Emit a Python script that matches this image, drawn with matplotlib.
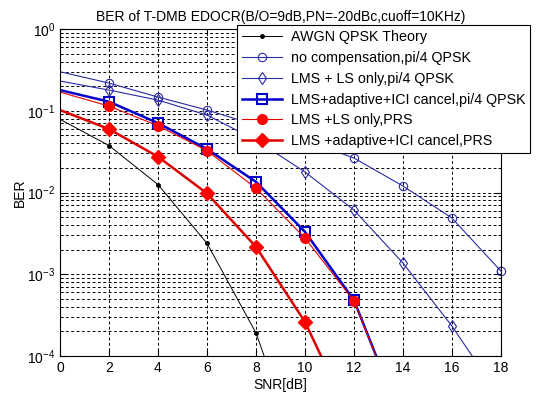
import matplotlib
matplotlib.use("Agg")
import matplotlib.pyplot as plt
from matplotlib.ticker import LogLocator, NullFormatter

plt.rcParams['font.family'] = ['Liberation Sans', 'DejaVu Sans']

snr = [0, 2, 4, 6, 8, 10, 12, 14, 16, 18]

awgn_snr = [0, 2, 4, 6, 8, 10]
awgn_ber = [0.0786, 0.0375, 0.0125, 0.00239, 0.000191, 3.9e-6]

nocomp_ber = [0.300, 0.218, 0.147, 0.102, 0.0668, 0.0438, 0.0264, 0.0120, 0.00486, 0.00109]
lmsls_ber = [0.231, 0.179, 0.135, 0.0885, 0.0438, 0.0178, 0.0061, 0.00137, 0.000232, 3e-5]

ici_snr = [0, 2, 4, 6, 8, 10, 12, 14]
ici_qpsk_ber = [0.179, 0.129, 0.0707, 0.034, 0.0135, 0.0033, 0.00048, 1.5e-5]
ls_prs_ber = [0.169, 0.114, 0.0656, 0.0324, 0.0113, 0.00277, 0.00047, 1.5e-5]

prs_snr = [0, 2, 4, 6, 8, 10, 12]
ici_prs_ber = [0.102, 0.0597, 0.0274, 0.00975, 0.00216, 0.000261, 1.4e-5]

labels = ["AWGN QPSK Theory",
          "no compensation,pi/4 QPSK",
          "LMS + LS only,pi/4 QPSK",
          "LMS+adaptive+ICI cancel,pi/4 QPSK",
          "LMS +LS only,PRS",
          "LMS +adaptive+ICI cancel,PRS"]

W, H = 539, 394
fig = plt.figure(figsize=(W / 100, H / 100), dpi=100)
ax = fig.add_axes([60 / W, 1 - 356 / H, (501 - 60) / W, (356 - 29) / H])

me = slice(1, None)
thin_blue = '#2b2ba6'
ax.semilogy(awgn_snr, awgn_ber, color='black', lw=0.7, marker='.', ms=5, markevery=me, label=labels[0])
ax.semilogy(snr, nocomp_ber, color=thin_blue, lw=0.8, marker='o', ms=6, mfc='none', mew=0.8, markevery=me, label=labels[1])
# last marker drawn unclipped at the right edge, as in the original
ax.semilogy(snr[-1:], nocomp_ber[-1:], color=thin_blue, ls='none', marker='o', ms=6, mfc='none', mew=0.8, clip_on=False)
ax.semilogy(snr, lmsls_ber, color=thin_blue, lw=0.8, marker='d', ms=6, mfc='none', mew=0.8, markevery=me, label=labels[2])
ax.semilogy(ici_snr, ici_qpsk_ber, color='#0000cc', lw=1.8, marker='s', ms=7, mfc='none', mew=1.5, markevery=me, label=labels[3])
ax.semilogy(ici_snr, ls_prs_ber, color='#e60000', lw=0.8, marker='o', ms=7, mfc='#ff0000', mec='#ff0000', markevery=me, label=labels[4])
ax.semilogy(prs_snr, ici_prs_ber, color='#dd0000', lw=1.8, marker='D', ms=7, mfc='#ff0000', mec='#ff0000', markevery=me, label=labels[5])

ax.set_xlim(0, 18)
ax.set_ylim(1e-4, 1)
ax.set_xticks(range(0, 19, 2))
ax.yaxis.set_major_locator(LogLocator(base=10, numticks=10))
ax.yaxis.set_minor_locator(LogLocator(base=10, subs=range(2, 10), numticks=20))
ax.yaxis.set_minor_formatter(NullFormatter())

grid_kw = dict(color='black', linestyle=(0, (3, 2.5)), linewidth=0.7)
ax.grid(True, which='major', axis='both', **grid_kw)
ax.grid(True, which='minor', axis='y', **grid_kw)

ax.tick_params(which='both', direction='in', labelsize=10, top=True, right=True, length=4)
ax.tick_params(which='minor', length=2)
for sp in ax.spines.values():
    sp.set_linewidth(0.8)

ax.set_xlabel("SNR[dB]", fontsize=10, labelpad=2)
ax.set_ylabel("BER", fontsize=10, labelpad=0)
ax.set_title("BER of T-DMB EDOCR(B/O=9dB,PN=-20dBc,cuoff=10KHz)", fontsize=10, pad=6)

leg = ax.legend(loc='upper left', bbox_to_anchor=(237 / W, 1 - 25 / H), bbox_transform=fig.transFigure,
                fontsize=10.3, frameon=True, fancybox=False, edgecolor='black', framealpha=1,
                handlelength=2.8, handletextpad=0.6, labelspacing=0.48, borderpad=0.35,
                borderaxespad=0)
leg.get_frame().set_linewidth(0.8)

fig.savefig("out.png", dpi=100)
